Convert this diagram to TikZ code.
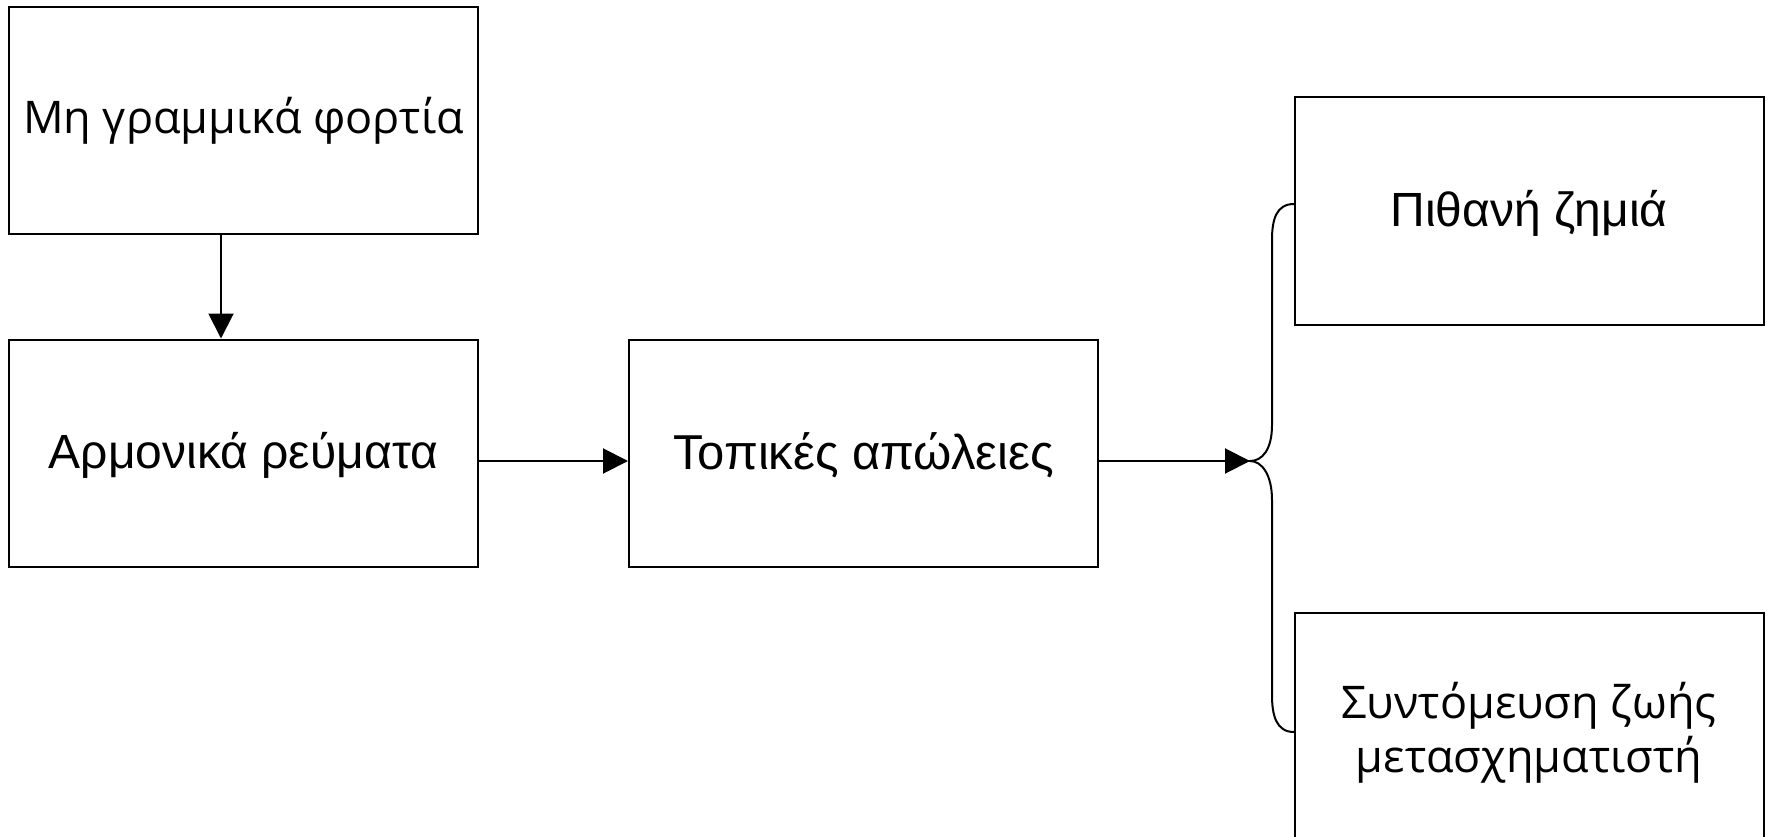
\documentclass[tikz,border=0pt]{standalone}
\usepackage{fontspec}
\setmainfont{Liberation Sans}
\newfontfamily\opensans{Open Sans}
\usetikzlibrary{arrows.meta}
\begin{document}
\begin{tikzpicture}[x=1pt,y=-1pt,
  box/.style={draw=black,line width=2pt,rectangle,inner sep=0pt,
    minimum width=469pt,minimum height=227pt,align=center},
  arr/.style={line width=2pt,-{Triangle[length=25pt,width=25pt]}},
  brace/.style={line width=2pt}]
\useasboundingbox (0,0) rectangle (1769,837);
\node[box,font=\opensans\fontsize{45}{52}\selectfont,text height=27pt,text depth=0pt] (b1) at (243.5,120.5) {Μη γραμμικά φορτία};
\node[box,font=\fontsize{48}{56}\selectfont,text height=31pt,text depth=0pt] (b2) at (243.5,453) {Αρμονικά ρεύματα};
\node[box,font=\fontsize{49}{57}\selectfont,text height=33pt,text depth=0pt] (b3) at (863.5,453) {Τοπικές απώλειες};
\node[box,font=\fontsize{48}{56}\selectfont,text height=31pt,text depth=0pt] (b4) at (1529,211) {Πιθανή ζημιά};
\node[box,font=\opensans\fontsize{45}{54}\selectfont] (b5) at (1529,726) {};
\node[font=\opensans\fontsize{45}{54}\selectfont,align=center,inner sep=0pt] (t5text) at (1529,733) {Συντόμευση ζωής\\μετασχηματιστή};
\coordinate (tip) at (1250,461);
\coordinate (t4) at (1294,204);
\coordinate (t5) at (1294,732);
\draw[arr] ([xshift=-22.5pt]b1.south) -- ([xshift=-22.5pt]b2.north);
\draw[arr] ([yshift=-8pt]b2.east) -- ([yshift=-8pt]b3.west);
\draw[arr] (b3.east |- tip) -- (tip);
\draw[brace] (t4) .. controls (1276,204) and (1272,220) .. (1272,240) -- (1272,425)
  .. controls (1272,450) and (1262,461) .. (tip)
  .. controls (1262,461) and (1272,475) .. (1272,500) -- (1272,695)
  .. controls (1272,715) and (1276,732) .. (t5);
\end{tikzpicture}
\end{document}
